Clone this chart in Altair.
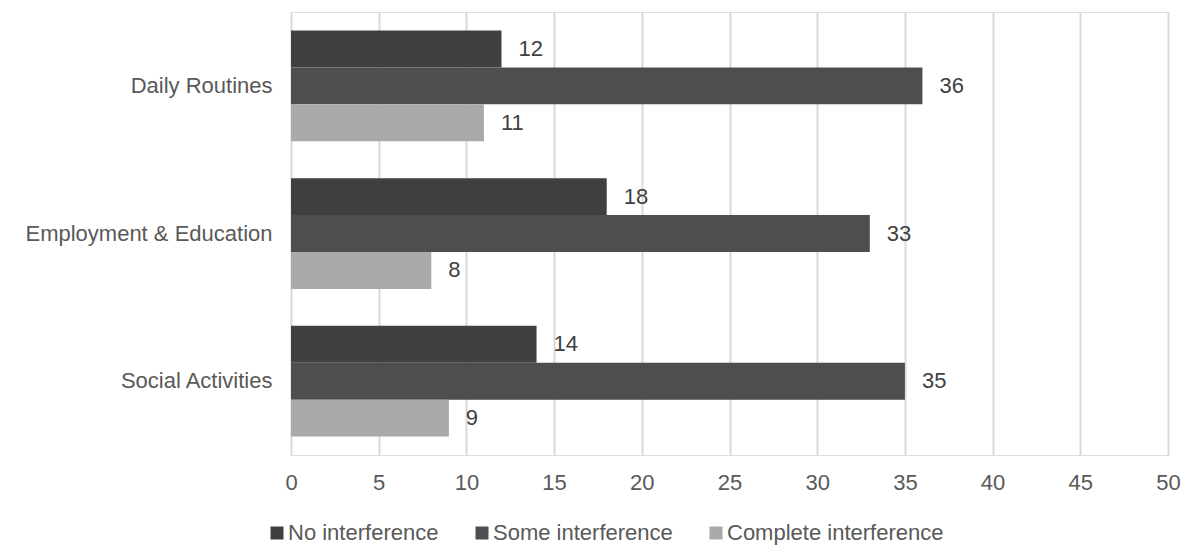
import altair as alt
import pandas as pd

# Survey responses: how much symptoms interfere with each life area
categories = ["Daily Routines", "Employment & Education", "Social Activities"]
series = ["No interference", "Some interference", "Complete interference"]
no_interference = [12, 18, 14]
some_interference = [36, 33, 35]
complete_interference = [11, 8, 9]
colors = ["#404040", "#4e4e4e", "#a9a9a9"]

rows = []
for i, cat in enumerate(categories):
    for s, vals in zip(series, [no_interference, some_interference, complete_interference]):
        rows.append({"area": cat, "level": s, "count": vals[i]})
df = pd.DataFrame(rows)

font = "Liberation Sans"
fs = 22

y_enc = alt.Y(
    "area:N",
    sort=categories,
    scale=alt.Scale(paddingInner=0.25, paddingOuter=0.125),
    axis=alt.Axis(
        title=None, domain=False, ticks=False, labelPadding=19, labelLimit=400,
        labelFontSize=fs, labelColor="#595959", labelFont=font,
    ),
)
yoff = alt.YOffset("level:N", sort=series, scale=alt.Scale(domain=series))

bars = alt.Chart(df).mark_bar().encode(
    x=alt.X(
        "count:Q",
        scale=alt.Scale(domain=[0, 50], nice=False),
        axis=alt.Axis(
            title=None, values=list(range(0, 51, 5)), domain=False, ticks=False,
            grid=True, gridColor="#d9d9d9", gridWidth=2, labelPadding=17,
            labelFlush=False, labelFontSize=fs, labelColor="#595959", labelFont=font,
        ),
    ),
    y=y_enc,
    yOffset=yoff,
    color=alt.Color(
        "level:N",
        sort=series,
        scale=alt.Scale(domain=series, range=colors),
        legend=alt.Legend(
            title=None, orient="none", direction="horizontal",
            legendX=-25, legendY=510, symbolType="square", symbolSize=169,
            symbolStrokeWidth=0, labelFontSize=fs, labelColor="#595959",
            labelFont=font, columnPadding=32, labelOffset=0, labelLimit=400,
        ),
    ),
)

labels = alt.Chart(df).mark_text(
    align="left", baseline="middle", dx=17, fontSize=fs, font=font, color="#404040"
).encode(
    x="count:Q",
    y=alt.Y("area:N", sort=categories),
    yOffset=yoff,
    text="count:Q",
)

chart = (
    alt.layer(bars, labels)
    .properties(
        width=877, height=443, autosize="none",
        padding={"left": 291, "top": 12, "right": 18, "bottom": 91},
    )
    .configure_view(stroke=None)
    .configure(background="white")
)

chart.save("out.html", embed_options={"renderer": "svg", "actions": False})
